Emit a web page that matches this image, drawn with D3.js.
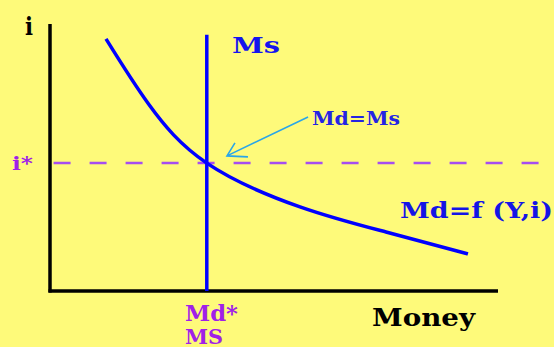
<!DOCTYPE html>
<html>
<head>
<meta charset="utf-8">
<script src="https://cdn.jsdelivr.net/npm/d3@7"></script>
<style>
  html, body { margin: 0; padding: 0; background: #fefa7a; }
  svg { display: block; }
  text { font-family: "DejaVu Serif", "Liberation Serif", serif; font-weight: bold; }
</style>
</head>
<body>
<script>
var width = 554
var height = 347

// money demand curve (money, interest rate)
var mdMoney = [12.5, 22.0, 35.0, 55.8, 75.0, 93.3]
var mdRate  = [94.4, 70.0, 47.9, 31.5, 22.1, 13.9]

// money supply (vertical) and equilibrium rate
var msMoney = 35
var msTop = 96
var iStar = 47.9

// annotation arrow tail / head
var arrowMoney = [57.6, 39.5]
var arrowRate  = [65.2, 50.6]

var svg = d3.select("body")
    .append("svg")
    .attr("width", width)
    .attr("height", height)

svg.append("rect")
    .attr("width", width)
    .attr("height", height)
    .attr("fill", "#fefa7a")

var x_scale = d3.scaleLinear()
    .domain([0, 100])
    .range([50, 498])

var y_scale = d3.scaleLinear()
    .domain([0, 100])
    .range([291, 24])

// dashed i* line
svg.append("line")
    .attr("x1", x_scale(0.8))
    .attr("x2", width)
    .attr("y1", y_scale(iStar))
    .attr("y2", y_scale(iStar))
    .attr("stroke", "#a64df0")
    .attr("stroke-width", 2.5)
    .attr("stroke-dasharray", "17,19")

// axes (plain lines, no ticks)
svg.append("line")
    .attr("x1", x_scale(0)).attr("x2", x_scale(0))
    .attr("y1", y_scale(100)).attr("y2", y_scale(0) + 1.5)
    .attr("stroke", "#000").attr("stroke-width", 3.5)

svg.append("line")
    .attr("x1", x_scale(0) - 1.5).attr("x2", x_scale(100))
    .attr("y1", y_scale(0)).attr("y2", y_scale(0))
    .attr("stroke", "#000").attr("stroke-width", 3.5)

// Ms line
svg.append("line")
    .attr("x1", x_scale(msMoney)).attr("x2", x_scale(msMoney))
    .attr("y1", y_scale(msTop)).attr("y2", y_scale(0))
    .attr("stroke", "#0000ff").attr("stroke-width", 3.5)

// Md curve
var mdData = mdMoney.map((m, i) => ({money: m, rate: mdRate[i]}))

var line = d3.line()
    .x((d) => x_scale(d.money))
    .y((d) => y_scale(d.rate))
    .curve(d3.curveNatural)

svg.append("path")
    .datum(mdData)
    .attr("d", line)
    .attr("fill", "none")
    .attr("stroke", "#0000ff")
    .attr("stroke-width", 3.5)

// arrow Md=Ms
var ax0 = x_scale(arrowMoney[0]), ay0 = y_scale(arrowRate[0])
var ax1 = x_scale(arrowMoney[1]), ay1 = y_scale(arrowRate[1])
svg.append("path")
    .attr("d", "M" + ax0 + "," + ay0 + "L" + ax1 + "," + ay1 +
               "M" + (ax1 + 8) + "," + (ay1 - 13) + "L" + ax1 + "," + ay1 + "L" + (ax1 + 21) + "," + (ay1 + 1))
    .attr("fill", "none")
    .attr("stroke", "#2aa6e8")
    .attr("stroke-width", 1.6)

// labels - the original text is stretched wide, so fix each width
function label(txt, x, y, size, len, color) {
    svg.append("text")
        .attr("x", x)
        .attr("y", y)
        .attr("font-size", size)
        .attr("fill", color)
        .attr("textLength", len)
        .attr("lengthAdjust", "spacingAndGlyphs")
        .text(txt)
}

label("i", 25, 35, 25, 8, "#000")
label("Ms", 232, 53, 22, 48, "#1414ee")
label("Md=Ms", 312, 125, 18, 88, "#2424e4")
label("i*", 12, 170, 19, 21, "#a020e8")
label("Md=f (Y,i)", 400, 218, 22, 153, "#1414e6")
label("Md*", 185, 321, 22, 53, "#a020e8")
label("MS", 185, 344, 21, 38, "#a020e8")
label("Money", 372, 326, 24, 103, "#000")
</script>
</body>
</html>
